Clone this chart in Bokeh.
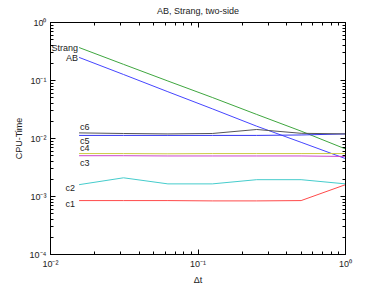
from bokeh.plotting import figure
from bokeh.models import LogAxis, FixedTicker, CustomJSTickFormatter, CustomLabelingPolicy
from bokeh.core.properties import value
from bokeh.embed import file_html
from bokeh.resources import INLINE

# ---- data ----
dt = [1/64, 1/32, 1/16, 1/8, 1/4, 1/2, 1]
AB = [0.25, 0.127, 0.064, 0.0325, 0.0163, 0.0086, 0.0045]
Strang = [0.37, 0.19, 0.098, 0.051, 0.026, 0.0134, 0.0066]
c1 = [8.5e-4, 8.5e-4, 8.5e-4, 8.4e-4, 8.4e-4, 8.5e-4, 1.6e-3]
c2 = [1.6e-3, 2.1e-3, 1.65e-3, 1.65e-3, 1.95e-3, 1.95e-3, 1.65e-3]
c3 = [5.05e-3, 5.05e-3, 5.0e-3, 5.0e-3, 5.0e-3, 5.0e-3, 4.9e-3]
c4 = [5.5e-3, 5.5e-3, 5.45e-3, 5.5e-3, 5.5e-3, 5.5e-3, 5.5e-3]
c5 = [1.13e-2, 1.13e-2, 1.13e-2, 1.13e-2, 1.13e-2, 1.15e-2, 1.2e-2]
c6 = [1.25e-2, 1.22e-2, 1.2e-2, 1.22e-2, 1.43e-2, 1.23e-2, 1.2e-2]

series_names = ["AB", "Strang", "c1", "c2", "c3", "c4", "c5", "c6"]
series_vals = [AB, Strang, c1, c2, c3, c4, c5, c6]
colors = ["#4545ff", "#3fa63f", "#ff4a4a", "#45cccc", "#cc45cc", "#cccc45", "#3535f0", "#555555"]

title_text = "AB, Strang, two-side"
x_major = [0.01, 0.1, 1.0]
y_major = [1e-4, 1e-3, 1e-2, 1e-1, 1.0]

FONT = "Liberation Sans"

p = figure(width=382, height=287, x_axis_type="log", y_axis_type="log",
           x_range=(0.01, 1), y_range=(1e-4, 1), title=title_text,
           output_backend="svg", toolbar_location=None,
           min_border_left=50, min_border_right=37, min_border_top=22, min_border_bottom=33)

p.title.align = "center"
p.title.text_font = FONT
p.title.text_font_size = "9px"
p.title.text_font_style = "normal"
p.title.text_color = "#222222"
p.title.standoff = 6

p.xgrid.visible = False
p.ygrid.visible = False
p.outline_line_color = "black"

minor = lambda majors: [m * k for m in majors[:-1] for k in range(2, 10)]

fmt = CustomJSTickFormatter(code="""
const sup = {'-':'\u207b','0':'\u2070','1':'\u00b9','2':'\u00b2','3':'\u00b3','4':'\u2074','5':'\u2075','6':'\u2076','7':'\u2077','8':'\u2078','9':'\u2079'};
const e = Math.round(Math.log10(tick));
return '10' + String(e).split('').map(c => sup[c]).join('');
""")

def style_axis(ax, majors, labels=True):
    ax.ticker = FixedTicker(ticks=majors, minor_ticks=minor(majors))
    ax.formatter = fmt
    ax.major_tick_in = 5
    ax.major_tick_out = 0
    ax.minor_tick_in = 3
    ax.minor_tick_out = 0
    ax.axis_line_color = "black"
    ax.major_tick_line_color = "black"
    ax.minor_tick_line_color = "black"
    ax.major_label_text_font = FONT
    ax.major_label_text_font_size = "9px"
    ax.major_label_text_color = "#222222"
    ax.major_label_standoff = 4
    if not labels:
        ax.major_label_policy = CustomLabelingPolicy(code="return new Set()")
        ax.major_label_standoff = 0
        ax.major_label_text_font_size = "1px"

style_axis(p.xaxis[0], x_major)
style_axis(p.yaxis[0], y_major)
p.xaxis[0].axis_label = "\u0394t"
p.yaxis[0].axis_label = "CPU-Time"
for ax in (p.xaxis[0], p.yaxis[0]):
    ax.axis_label_text_font = FONT
    ax.axis_label_text_font_size = "9px"
    ax.axis_label_text_font_style = "normal"
    ax.axis_label_text_color = "#222222"
    ax.axis_label_standoff = 3

ra = LogAxis()
style_axis(ra, y_major, labels=False)
p.add_layout(ra, "right")
ta = LogAxis()
style_axis(ta, x_major, labels=False)
p.add_layout(ta, "above")

for name, vals, col in zip(series_names, series_vals, colors):
    p.line(dt, vals, line_color=col, line_width=1)

# labels
lab_specs = [
    ("Strang", Strang, "right", "middle", -1, 0),
    ("AB", AB, "right", "middle", -1, 1),
    ("c6", c6, "left", "bottom", 1, -1),
    ("c5", c5, "left", "top", 1, 1),
    ("c4", c4, "left", "bottom", 1, -1),
    ("c3", c3, "left", "top", 1, 2),
    ("c2", c2, "right", "middle", -4, 3),
    ("c1", c1, "right", "middle", -4, 3),
]
for txt, vals, align, base, xo, yo in lab_specs:
    p.text(x=[dt[0]], y=[vals[0]], text=[txt], text_align=align, text_baseline=base,
           x_offset=xo, y_offset=yo, text_font=value(FONT), text_font_size="9px",
           text_color="#222222")

open("out.html", "w").write(file_html(p, INLINE))
